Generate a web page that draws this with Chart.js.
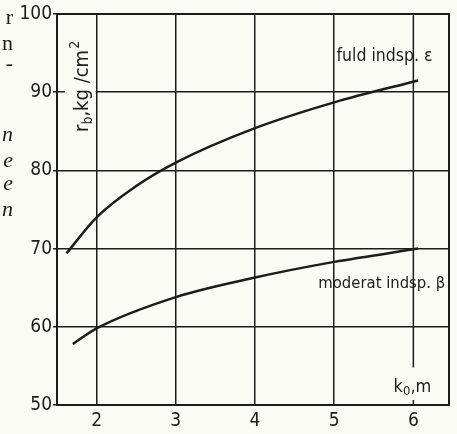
<!DOCTYPE html>
<html>
<head>
<meta charset="utf-8">
<script src="https://cdn.jsdelivr.net/npm/chart.js@4.4.0/dist/chart.umd.min.js"></script>
<style>
  html, body { margin: 0; padding: 0; background: #fbfbf6; }
  #wrap { width: 457px; height: 434px; position: relative; }
</style>
</head>
<body>
<div id="wrap"><canvas id="myChart"></canvas></div>
<script>
// values
const xTicks = [2, 3, 4, 5, 6]
const yTicks = [50, 60, 70, 80, 90, 100]

const fuldX = [1.62, 2, 2.5, 3, 4, 5, 6.06]
const fuldY = [69.4, 74.0, 78.0, 81.0, 85.4, 88.7, 91.5]

const moderatX = [1.7, 2, 3, 4, 5, 6.06]
const moderatY = [57.8, 59.8, 63.8, 66.3, 68.3, 70.0]

const ink = '#1c1c1c'
const paper = '#fbfbf6'
const family = '"DejaVu Sans Condensed", "DejaVu Sans", sans-serif'

const toPoints = (xs, ys) => xs.map((x, i) => ({ x: x, y: ys[i] }))

// scrap of book text cut off at the left margin
const marginText = [
  { t: 'r', y: 24, italic: false },
  { t: 'n', y: 50, italic: false },
  { t: '-', y: 70, italic: false },
  { t: 'n', y: 141, italic: true },
  { t: 'e', y: 167, italic: true },
  { t: 'e', y: 190, italic: true },
  { t: 'n', y: 216, italic: true }
]

const figure = {
  id: 'figure',
  beforeDatasetsDraw(chart) {
    const { ctx, chartArea: a, scales: { x, y } } = chart
    ctx.save()
    ctx.strokeStyle = ink

    // x = 6 grid line stops short of the axis label, plus a small tick
    const x6 = x.getPixelForValue(6)
    ctx.lineWidth = 1.5
    ctx.beginPath()
    ctx.moveTo(x6, a.top)
    ctx.lineTo(x6, y.getPixelForValue(54.8))
    ctx.moveTo(x6, a.bottom)
    ctx.lineTo(x6, a.bottom - 5)
    ctx.stroke()

    // frame
    ctx.lineWidth = 2
    ctx.strokeRect(a.left, a.top, a.right - a.left, a.bottom - a.top)

    // y title on a paper patch
    const x2 = x.getPixelForValue(2)
    ctx.fillStyle = paper
    ctx.fillRect(a.left + 8, 26, x2 - a.left - 9, 110)
    ctx.fillStyle = ink
    ctx.translate(88, 132)
    ctx.rotate(-Math.PI / 2)
    ctx.textBaseline = 'alphabetic'
    ctx.textAlign = 'left'
    let cx = 0
    ctx.font = '20px ' + family
    ctx.fillText('r', cx, 0); cx += ctx.measureText('r').width
    ctx.font = '14px ' + family
    ctx.fillText('b', cx, 4); cx += ctx.measureText('b').width
    ctx.font = '20px ' + family
    ctx.fillText(',kg /cm', cx, 0); cx += ctx.measureText(',kg /cm').width
    ctx.font = '14px ' + family
    ctx.fillText('2', cx + 1, -9)
    ctx.restore()

    ctx.save()
    ctx.fillStyle = ink
    ctx.textAlign = 'right'
    marginText.forEach(m => {
      ctx.font = (m.italic ? 'italic ' : '') + '22px "Liberation Serif", serif'
      ctx.fillText(m.t, 13, m.y)
    })
    ctx.restore()
  },
  afterDatasetsDraw(chart) {
    const { ctx, scales: { x, y } } = chart
    ctx.save()
    ctx.fillStyle = ink
    ctx.textAlign = 'left'
    ctx.textBaseline = 'alphabetic'
    ctx.font = '17.5px ' + family
    ctx.fillText('fuld indsp. \u03b5', x.getPixelForValue(5.03), y.getPixelForValue(94.0))
    ctx.font = '16.5px ' + family
    ctx.fillText('moderat indsp. \u03b2', x.getPixelForValue(4.80), y.getPixelForValue(65.0))

    let kx = x.getPixelForValue(5.75)
    const ky = y.getPixelForValue(51.7)
    ctx.font = '18px ' + family
    ctx.fillText('k', kx, ky); kx += ctx.measureText('k').width
    ctx.font = '13px ' + family
    ctx.fillText('0', kx, ky + 3); kx += ctx.measureText('0').width
    ctx.font = '18px ' + family
    ctx.fillText(',m', kx, ky)
    ctx.restore()
  }
}

const data = {
  datasets: [{
    label: 'fuld indsp. \u03b5',
    data: toPoints(fuldX, fuldY),
    borderColor: ink,
    borderWidth: 2.5,
    pointRadius: 0,
    cubicInterpolationMode: 'monotone'
  },
  {
    label: 'moderat indsp. \u03b2',
    data: toPoints(moderatX, moderatY),
    borderColor: ink,
    borderWidth: 2.5,
    pointRadius: 0,
    cubicInterpolationMode: 'monotone'
  }]
}

const options = {
  responsive: true,
  maintainAspectRatio: false,
  animation: false,
  layout: { padding: { top: 14, right: 8, left: 0, bottom: 0 } },
  plugins: { legend: { display: false }, tooltip: { enabled: false } },
  scales: {
    x: {
      type: 'linear',
      min: 1.5,
      max: 6.45,
      afterBuildTicks: s => { s.ticks = xTicks.map(v => ({ value: v })) },
      afterFit: s => { s.height = 29 },
      border: { display: false },
      grid: {
        drawTicks: false,
        lineWidth: 1.5,
        color: c => (c.tick && c.tick.value === 6) ? 'rgba(0,0,0,0)' : ink
      },
      ticks: { color: ink, padding: 5, font: { family: family, size: 19 } }
    },
    y: {
      min: 50,
      max: 100,
      afterBuildTicks: s => { s.ticks = yTicks.map(v => ({ value: v })) },
      afterFit: s => { s.width = 57 },
      border: { display: false },
      grid: { lineWidth: 1.5, color: ink, tickLength: 4 },
      ticks: { color: ink, padding: 1, font: { family: family, size: 19 } }
    }
  }
}

const myChart = new Chart(document.getElementById('myChart'), {
  type: 'line',
  data: data,
  options: options,
  plugins: [figure]
})
</script>
</body>
</html>
